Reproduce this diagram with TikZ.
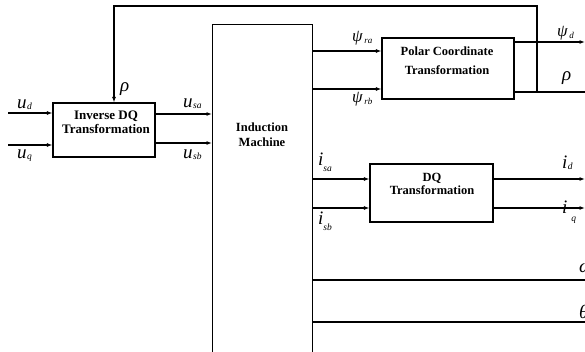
\documentclass[tikz,border=0pt]{standalone}
\usepackage{fontspec}
\setmainfont{Liberation Serif}
\usetikzlibrary{arrows.meta}
\newcommand{\vlab}[2]{{\fontsize{19}{19}\selectfont\itshape #1}\kern0.5pt\raisebox{-1.5pt}{\fontsize{9.5}{9.5}\selectfont\itshape #2}}
\newcommand{\plab}[1]{{\fontsize{17}{17}\selectfont\itshape ψ}\kern1.5pt\raisebox{-2pt}{\fontsize{9}{9}\selectfont\itshape #1}}
\begin{document}
\begin{tikzpicture}[x=1pt,y=-1pt,
  blk/.style={draw, line width=1.1pt, inner sep=0pt},
  txt/.style={align=center, inner sep=0pt},
  ln/.style={line width=1.1pt},
  arr/.style={ln, -{Latex[length=5.5pt,width=4pt]}},
  lbl/.style={inner sep=0pt, anchor=base west}]
\useasboundingbox (0,0) rectangle (585,351);
\clip (0,0) rectangle (585,351);
% blocks
\node[blk, minimum width=102pt, minimum height=54pt] (inv) at (104,130) {};
\node[blk, line width=1.4pt, minimum width=100pt, minimum height=345pt, anchor=north west] (im) at (212,24) {};
\node[blk, minimum width=132pt, minimum height=61pt] (pol) at (448,68.5) {};
\node[blk, minimum width=123pt, minimum height=58pt] (dq) at (431.5,193) {};
% block texts
\node[txt, font=\bfseries\fontsize{13}{14}\selectfont] (invt) at (106,122) {Inverse DQ\\Transformation};
\node[txt, font=\bfseries\fontsize{12.5}{15}\selectfont] (imt) at (262,135) {Induction\\Machine};
\node[txt, font=\bfseries\fontsize{12.5}{19}\selectfont] (polt) at (447,61) {Polar Coordinate\\Transformation};
\node[txt, font=\bfseries\fontsize{12.5}{12.5}\selectfont] (dqt) at (432,184) {DQ\\Transformation};
% inputs to inverse DQ
\coordinate (ud) at (8,113);
\coordinate (uq) at (8,145);
\draw[arr] (ud) -- (ud -| inv.west);
\draw[arr] (uq) -- (uq -| inv.west);
% inverse DQ to machine
\draw[arr] (inv.east |- 0,114) -- (im.west |- 0,114);
\draw[arr] (inv.east |- 0,143) -- (im.west |- 0,143);
% machine to polar
\draw[arr] (im.east |- 0,51) -- (pol.west |- 0,51);
\draw[arr] (im.east |- 0,89) -- (pol.west |- 0,89);
% polar outputs
\coordinate (psid) at (585,42);
\coordinate (rho) at (585,92);
\coordinate (j) at (537,92);
\coordinate (fb) at (114,6);
\draw[arr] (pol.east |- psid) -- (psid);
\draw[ln] (pol.east |- rho) -- (rho);
\draw[arr] (j) |- (fb) -- (fb |- inv.north);
% machine to DQ
\draw[arr] (im.east |- 0,179) -- (dq.west |- 0,179);
\draw[arr] (im.east |- 0,208) -- (dq.west |- 0,208);
% DQ outputs
\coordinate (id) at (585,179);
\coordinate (iq) at (585,208);
\draw[arr] (dq.east |- id) -- (id);
\draw[arr] (dq.east |- iq) -- (iq);
% omega, theta
\coordinate (om) at (585,280);
\coordinate (th) at (585,322);
\draw[ln] (im.east |- om) -- (om);
\draw[ln] (im.east |- th) -- (th);
% labels
\node[lbl] (lud) at (17,108) {\vlab{u}{d}};
\node[lbl] (luq) at (17,158) {\vlab{u}{q}};
\node[lbl] (lusa) at (183,107) {\vlab{u}{sa}};
\node[lbl] (lusb) at (183,158) {\vlab{u}{sb}};
\node[lbl] (lrho1) at (120,91) {\fontsize{19}{19}\selectfont\itshape ρ};
\node[lbl] (lpra) at (352,41) {\plab{ra}};
\node[lbl] (lprb) at (352,102.5) {\plab{rb}};
\node[lbl] (lpd) at (557,36) {\plab{d}};
\node[lbl] (lrho2) at (562,80) {\fontsize{19}{19}\selectfont\itshape ρ};
\node[lbl] (lisa) at (318,165) {{\fontsize{19}{19}\selectfont\itshape i}\raisebox{-6pt}{\fontsize{9.5}{9.5}\selectfont\itshape sa}};
\node[lbl] (lisb) at (318,224) {{\fontsize{19}{19}\selectfont\itshape i}\raisebox{-6pt}{\fontsize{9.5}{9.5}\selectfont\itshape sb}};
\node[lbl] (lid) at (562,168) {\vlab{i}{d}};
\node[lbl] (liq) at (562,213) {{\fontsize{19}{19}\selectfont\itshape i}\kern4pt\raisebox{-8pt}{\fontsize{9.5}{9.5}\selectfont\itshape q}};
\node[lbl] (lom) at (579,272) {\fontsize{19}{19}\selectfont\itshape ω};
\node[lbl] (lth) at (579,318) {\fontsize{19}{19}\selectfont\itshape θ};
\end{tikzpicture}
\end{document}
